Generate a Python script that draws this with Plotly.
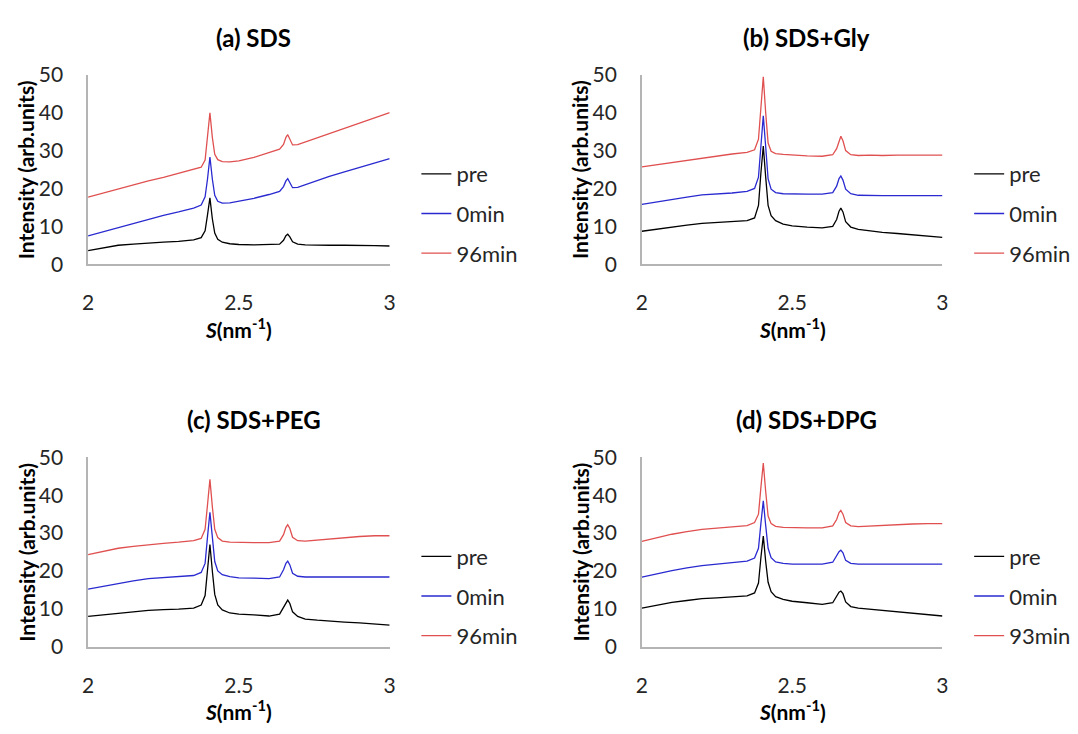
import plotly.graph_objects as go

# shared S grid (nm^-1)
s = [2.00, 2.05, 2.10, 2.15, 2.20, 2.25, 2.30, 2.35, 2.375, 2.388, 2.396, 2.404, 2.412, 2.42,
     2.43, 2.445, 2.47, 2.50, 2.55, 2.60, 2.635, 2.648, 2.656, 2.662, 2.669, 2.678, 2.695,
     2.72, 2.76, 2.80, 2.85, 2.90, 2.95, 3.00]

# (a) SDS
a_pre = [3.6, 4.3, 5.0, 5.3, 5.6, 5.8, 6.0, 6.4, 7.0, 8.8, 13.0, 17.5, 12.0, 8.2, 6.6, 5.8, 5.4,
         5.2, 5.1, 5.1, 5.3, 6.3, 7.5, 7.9, 7.2, 5.9, 5.3, 5.1, 5.0, 5.0, 5.0, 5.0, 4.9, 4.8]
a_0 = [7.5, 8.6, 9.7, 10.9, 12.0, 12.9, 13.8, 14.8, 15.6, 17.8, 22.5, 28.3, 22.5, 18.2, 16.6, 16.1,
       16.2, 16.6, 17.4, 18.4, 19.2, 20.5, 22.0, 22.6, 21.5, 20.2, 20.3, 21.0, 22.2, 23.2, 24.4,
       25.6, 26.8, 27.9]
a_96 = [17.7, 18.8, 19.8, 20.9, 22.0, 22.9, 23.9, 24.9, 25.6, 27.5, 33.0, 40.0, 33.5, 29.0, 27.6,
        27.1, 27.0, 27.3, 28.2, 29.5, 30.4, 31.6, 33.5, 34.2, 33.0, 31.5, 31.6, 32.3, 33.4, 34.6,
        35.8, 37.2, 38.6, 40.0]

# (b) SDS+Gly
b_pre = [8.7, 9.3, 9.8, 10.3, 10.8, 11.0, 11.2, 11.5, 12.2, 15.5, 24.0, 31.2, 23.0, 15.5, 12.8,
         11.5, 10.6, 10.1, 9.8, 9.6, 10.0, 11.8, 14.0, 14.8, 13.8, 11.2, 9.8, 9.2, 8.8, 8.4, 8.1,
         7.8, 7.4, 7.1]
b_0 = [15.8, 16.5, 17.1, 17.7, 18.3, 18.5, 18.8, 19.2, 20.0, 23.0, 31.0, 39.2, 31.0, 22.5, 19.8,
       18.9, 18.6, 18.5, 18.5, 18.5, 18.9, 20.6, 22.6, 23.3, 22.2, 19.8, 18.6, 18.2, 18.1, 18.1,
       18.1, 18.1, 18.2, 18.1]
b_96 = [25.7, 26.3, 26.8, 27.4, 27.9, 28.5, 29.1, 29.5, 30.2, 33.0, 41.0, 49.5, 40.0, 32.0, 29.8,
        29.2, 29.0, 28.8, 28.6, 28.5, 28.9, 30.5, 32.8, 33.8, 32.6, 30.0, 28.9, 28.7, 28.8, 28.7,
        28.8, 28.8, 28.8, 28.8]

# (c) SDS+PEG
c_pre = [8.0, 8.4, 8.8, 9.2, 9.6, 9.8, 9.9, 10.2, 11.0, 13.5, 20.5, 27.0, 20.0, 13.8, 11.0, 9.7,
         8.9, 8.6, 8.4, 8.1, 8.6, 10.4, 11.8, 12.3, 11.4, 9.2, 8.0, 7.3, 7.0, 6.7, 6.5, 6.3, 6.0, 5.7]
c_0 = [15.2, 16.0, 16.8, 17.4, 18.0, 18.2, 18.4, 18.8, 19.6, 22.0, 29.0, 35.5, 29.0, 22.5, 20.0,
       19.0, 18.5, 18.2, 18.1, 18.0, 18.4, 20.3, 22.0, 22.6, 21.6, 19.4, 18.6, 18.4, 18.4, 18.4,
       18.4, 18.4, 18.4, 18.4]
c_96 = [24.3, 25.2, 26.0, 26.5, 27.0, 27.3, 27.6, 28.0, 28.6, 31.0, 37.5, 44.2, 37.0, 31.0, 28.8,
        27.9, 27.6, 27.5, 27.5, 27.5, 27.9, 29.6, 31.5, 32.2, 31.2, 28.9, 28.0, 27.9, 28.2, 28.5,
        28.8, 29.1, 29.3, 29.3]

# (d) SDS+DPG
d_pre = [10.2, 11.0, 11.7, 12.2, 12.7, 12.9, 13.1, 13.4, 14.2, 16.8, 23.5, 29.2, 22.5, 17.0, 14.5,
         13.2, 12.5, 12.0, 11.6, 11.2, 11.6, 13.3, 14.4, 14.7, 14.0, 11.8, 10.6, 10.2, 9.9, 9.5,
         9.2, 8.8, 8.4, 8.1]
d_0 = [18.4, 19.3, 20.1, 20.8, 21.4, 21.8, 22.2, 22.6, 23.4, 26.0, 32.5, 38.5, 32.0, 26.0, 23.5,
       22.4, 22.0, 21.8, 21.8, 21.8, 22.3, 24.0, 25.1, 25.5, 24.8, 22.8, 22.0, 21.8, 21.8, 21.8,
       21.8, 21.8, 21.8, 21.8]
d_93 = [27.8, 28.8, 29.7, 30.4, 31.0, 31.3, 31.6, 32.0, 32.8, 35.0, 42.0, 48.5, 41.0, 34.5, 32.5,
        31.8, 31.5, 31.4, 31.4, 31.4, 31.9, 33.6, 35.4, 36.0, 35.0, 32.8, 31.9, 31.7, 31.9, 32.1,
        32.3, 32.4, 32.5, 32.5]

panel_titles = ["(a) SDS", "(b) SDS+Gly", "(c) SDS+PEG", "(d) SDS+DPG"]
series_names = [["pre", "0min", "96min"], ["pre", "0min", "96min"],
                ["pre", "0min", "96min"], ["pre", "0min", "93min"]]
panel_data = [[a_pre, a_0, a_96], [b_pre, b_0, b_96], [c_pre, c_0, c_96], [d_pre, d_0, d_93]]
x_ticks = [2, 2.5, 3]
x_tick_text = ["2", "2.5", "3"]
y_ticks = [0, 10, 20, 30, 40, 50]

colors = ["#000000", "#2a2ad0", "#e05050"]
FONT = "Lato"
W, H = 1078, 734

# plot-area pixel boxes: (left, right, top(50), bottom(0))
boxes = [(83, 388, 63, 259), (643, 947, 63, 259), (83, 388, 459, 655), (643, 947, 459, 655)]

fig = go.Figure()
legend_ids = ["legend", "legend2", "legend3", "legend4"]

for i in range(4):
    xa = "x" if i == 0 else f"x{i+1}"
    ya = "y" if i == 0 else f"y{i+1}"
    for j in range(3):
        fig.add_trace(go.Scatter(
            x=s, y=panel_data[i][j], mode="lines", name=series_names[i][j],
            line=dict(color=colors[j], width=1.3),
            xaxis=xa, yaxis=ya, legend=legend_ids[i], legendgroup=f"p{i}s{j}",
            hoverinfo="skip"))

layout = dict(width=W, height=H, margin=dict(l=0, r=0, t=0, b=0),
              paper_bgcolor="white", plot_bgcolor="white", showlegend=True,
              font=dict(family=FONT, color="#262626"))

annotations = []
for i, (l, r, t, b) in enumerate(boxes):
    xkey = "xaxis" if i == 0 else f"xaxis{i+1}"
    ykey = "yaxis" if i == 0 else f"yaxis{i+1}"
    xa = "x" if i == 0 else f"x{i+1}"
    ya = "y" if i == 0 else f"y{i+1}"
    layout[xkey] = dict(domain=[l / W, r / W], range=[2, 3], anchor=ya,
                        tickvals=x_ticks, ticktext=x_tick_text, showgrid=False,
                        zeroline=False, showline=True, linecolor="#b4b4b4", linewidth=1.5,
                        ticks="", ticklabelstandoff=19,
                        tickfont=dict(family=FONT, size=21, color="#262626"))
    layout[ykey] = dict(domain=[1 - b / H, 1 - t / H], range=[0, 50], anchor=xa,
                        tickvals=y_ticks, showgrid=False, zeroline=False, showline=True,
                        linecolor="#b4b4b4", linewidth=1.5, ticks="", ticklabelstandoff=19,
                        tickfont=dict(family=FONT, size=21, color="#262626"))
    # panel title
    annotations.append(dict(text=f"<b>{panel_titles[i]}</b>", x=((l + r) / 2 + 15) / W,
                            y=1 - (t - 39) / H, xref="paper", yref="paper",
                            xanchor="center", yanchor="middle", showarrow=False,
                            font=dict(family=FONT, size=24, color="#000")))
    # x axis title
    annotations.append(dict(text="<b><i>S</i>(nm<sup>-1</sup>)</b>", x=((l + r) / 2) / W,
                            y=1 - (b + 66) / H, xref="paper", yref="paper",
                            xanchor="center", yanchor="middle", showarrow=False,
                            font=dict(family=FONT, size=21, color="#000")))
    # y axis title
    annotations.append(dict(text="<b>Intensity (arb.units)</b>", x=(l - 63) / W,
                            y=1 - ((t + b) / 2) / H, xref="paper", yref="paper",
                            xanchor="center", yanchor="middle", textangle=-90,
                            showarrow=False, font=dict(family=FONT, size=21, color="#000")))
    # legend
    layout[legend_ids[i]] = dict(x=(r + 27) / W, y=1 - (t + 81) / H, xanchor="left",
                                 yanchor="top", bgcolor="rgba(0,0,0,0)", itemwidth=30,
                                 tracegroupgap=8, traceorder="grouped",
                                 font=dict(family=FONT, size=22, color="#262626"))

layout["annotations"] = annotations
fig.update_layout(**layout)
fig.write_html("out.html")
